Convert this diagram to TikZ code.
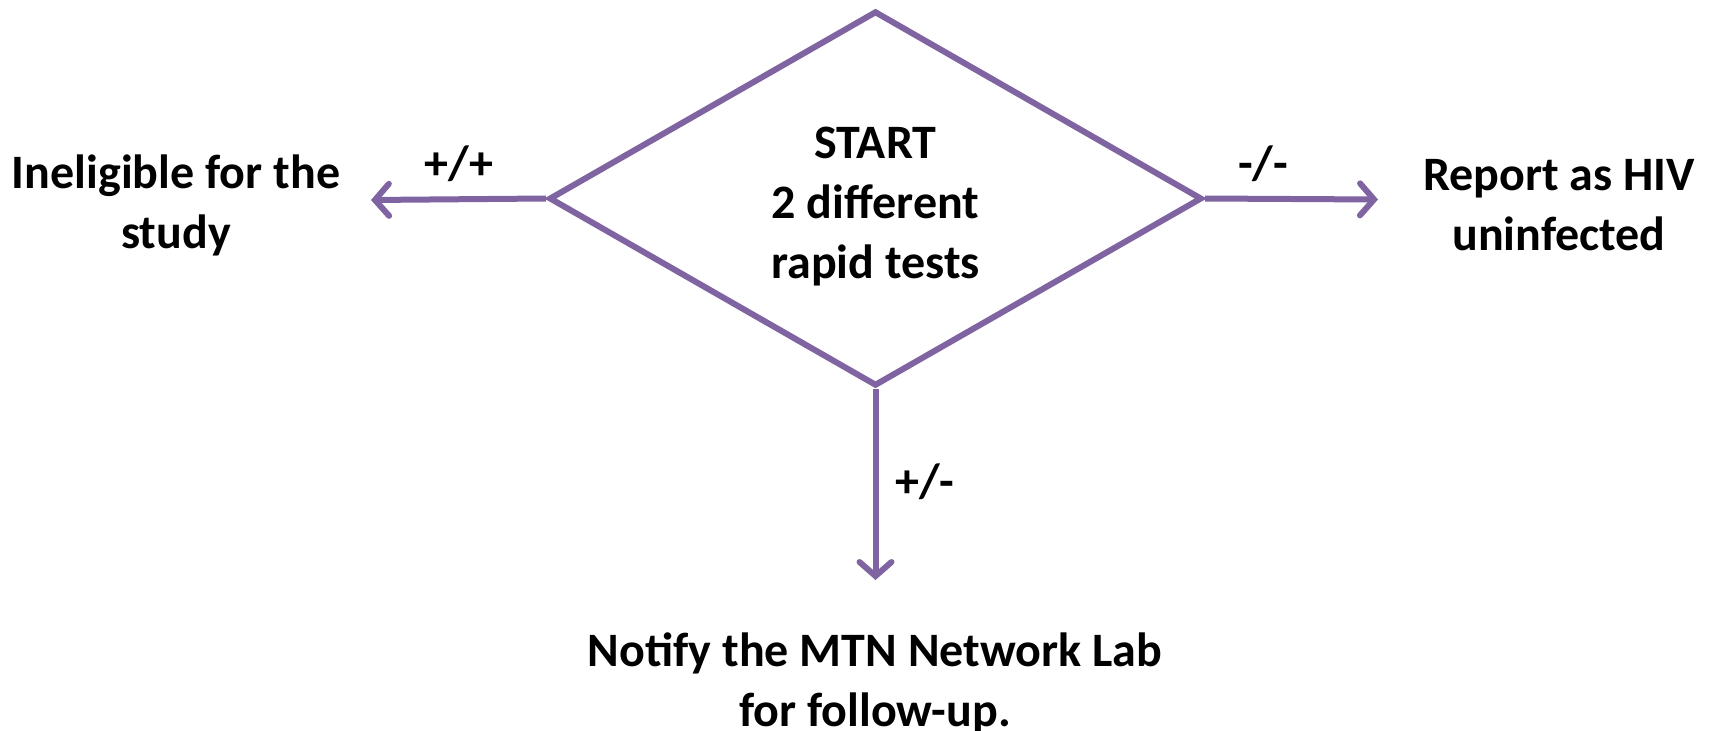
\documentclass[tikz,border=0pt]{standalone}
\usepackage{fontspec}
\setmainfont{Carlito}
\usetikzlibrary{shapes.geometric,arrows.meta}
\definecolor{flowpurple}{HTML}{8064A2}
\begin{document}
\begin{tikzpicture}[x=1pt,y=-1pt,
  txt/.style={font=\fontsize{48}{60}\selectfont\bfseries,align=center,inner sep=0pt,text=black},
  lbl/.style={font=\fontsize{48}{60}\selectfont\bfseries,inner sep=0pt,text=black},
  conn/.style={draw=flowpurple,line width=6pt,-{Straight Barb[length=14pt,width=32pt,line cap=round]}}
]
\useasboundingbox (0,0) rectangle (1722,731);
\node[diamond,draw=flowpurple,line width=6pt,minimum width=653pt,minimum height=375pt,inner sep=0pt] (d) at (875.5,198.5) {};
\node[txt] (dtext) at (875.5,207) {START\\2 different\\rapid tests};
\coordinate (lt) at (371,200);
\coordinate (rt) at (1378,199.5);
\coordinate (bt) at (875.5,580);
\node[txt] (left) at (176,205) {Ineligible for the\\study};
\node[txt] (right) at (1559,205) {Report as HIV\\uninfected};
\node[txt] (bottom) at (875,683) {Notify the MTN Network Lab\\for follow-up.};
\draw[conn] (d.west) -- (lt);
\draw[conn] (d.east) -- (rt);
\draw[conn] (d.south) -- (bt);
\node[lbl] (l1) at (459,164) {+/+};
\node[lbl] (l2) at (1263,164) {-/-};
\node[lbl] (l3) at (925,482) {+/-};
\end{tikzpicture}
\end{document}
